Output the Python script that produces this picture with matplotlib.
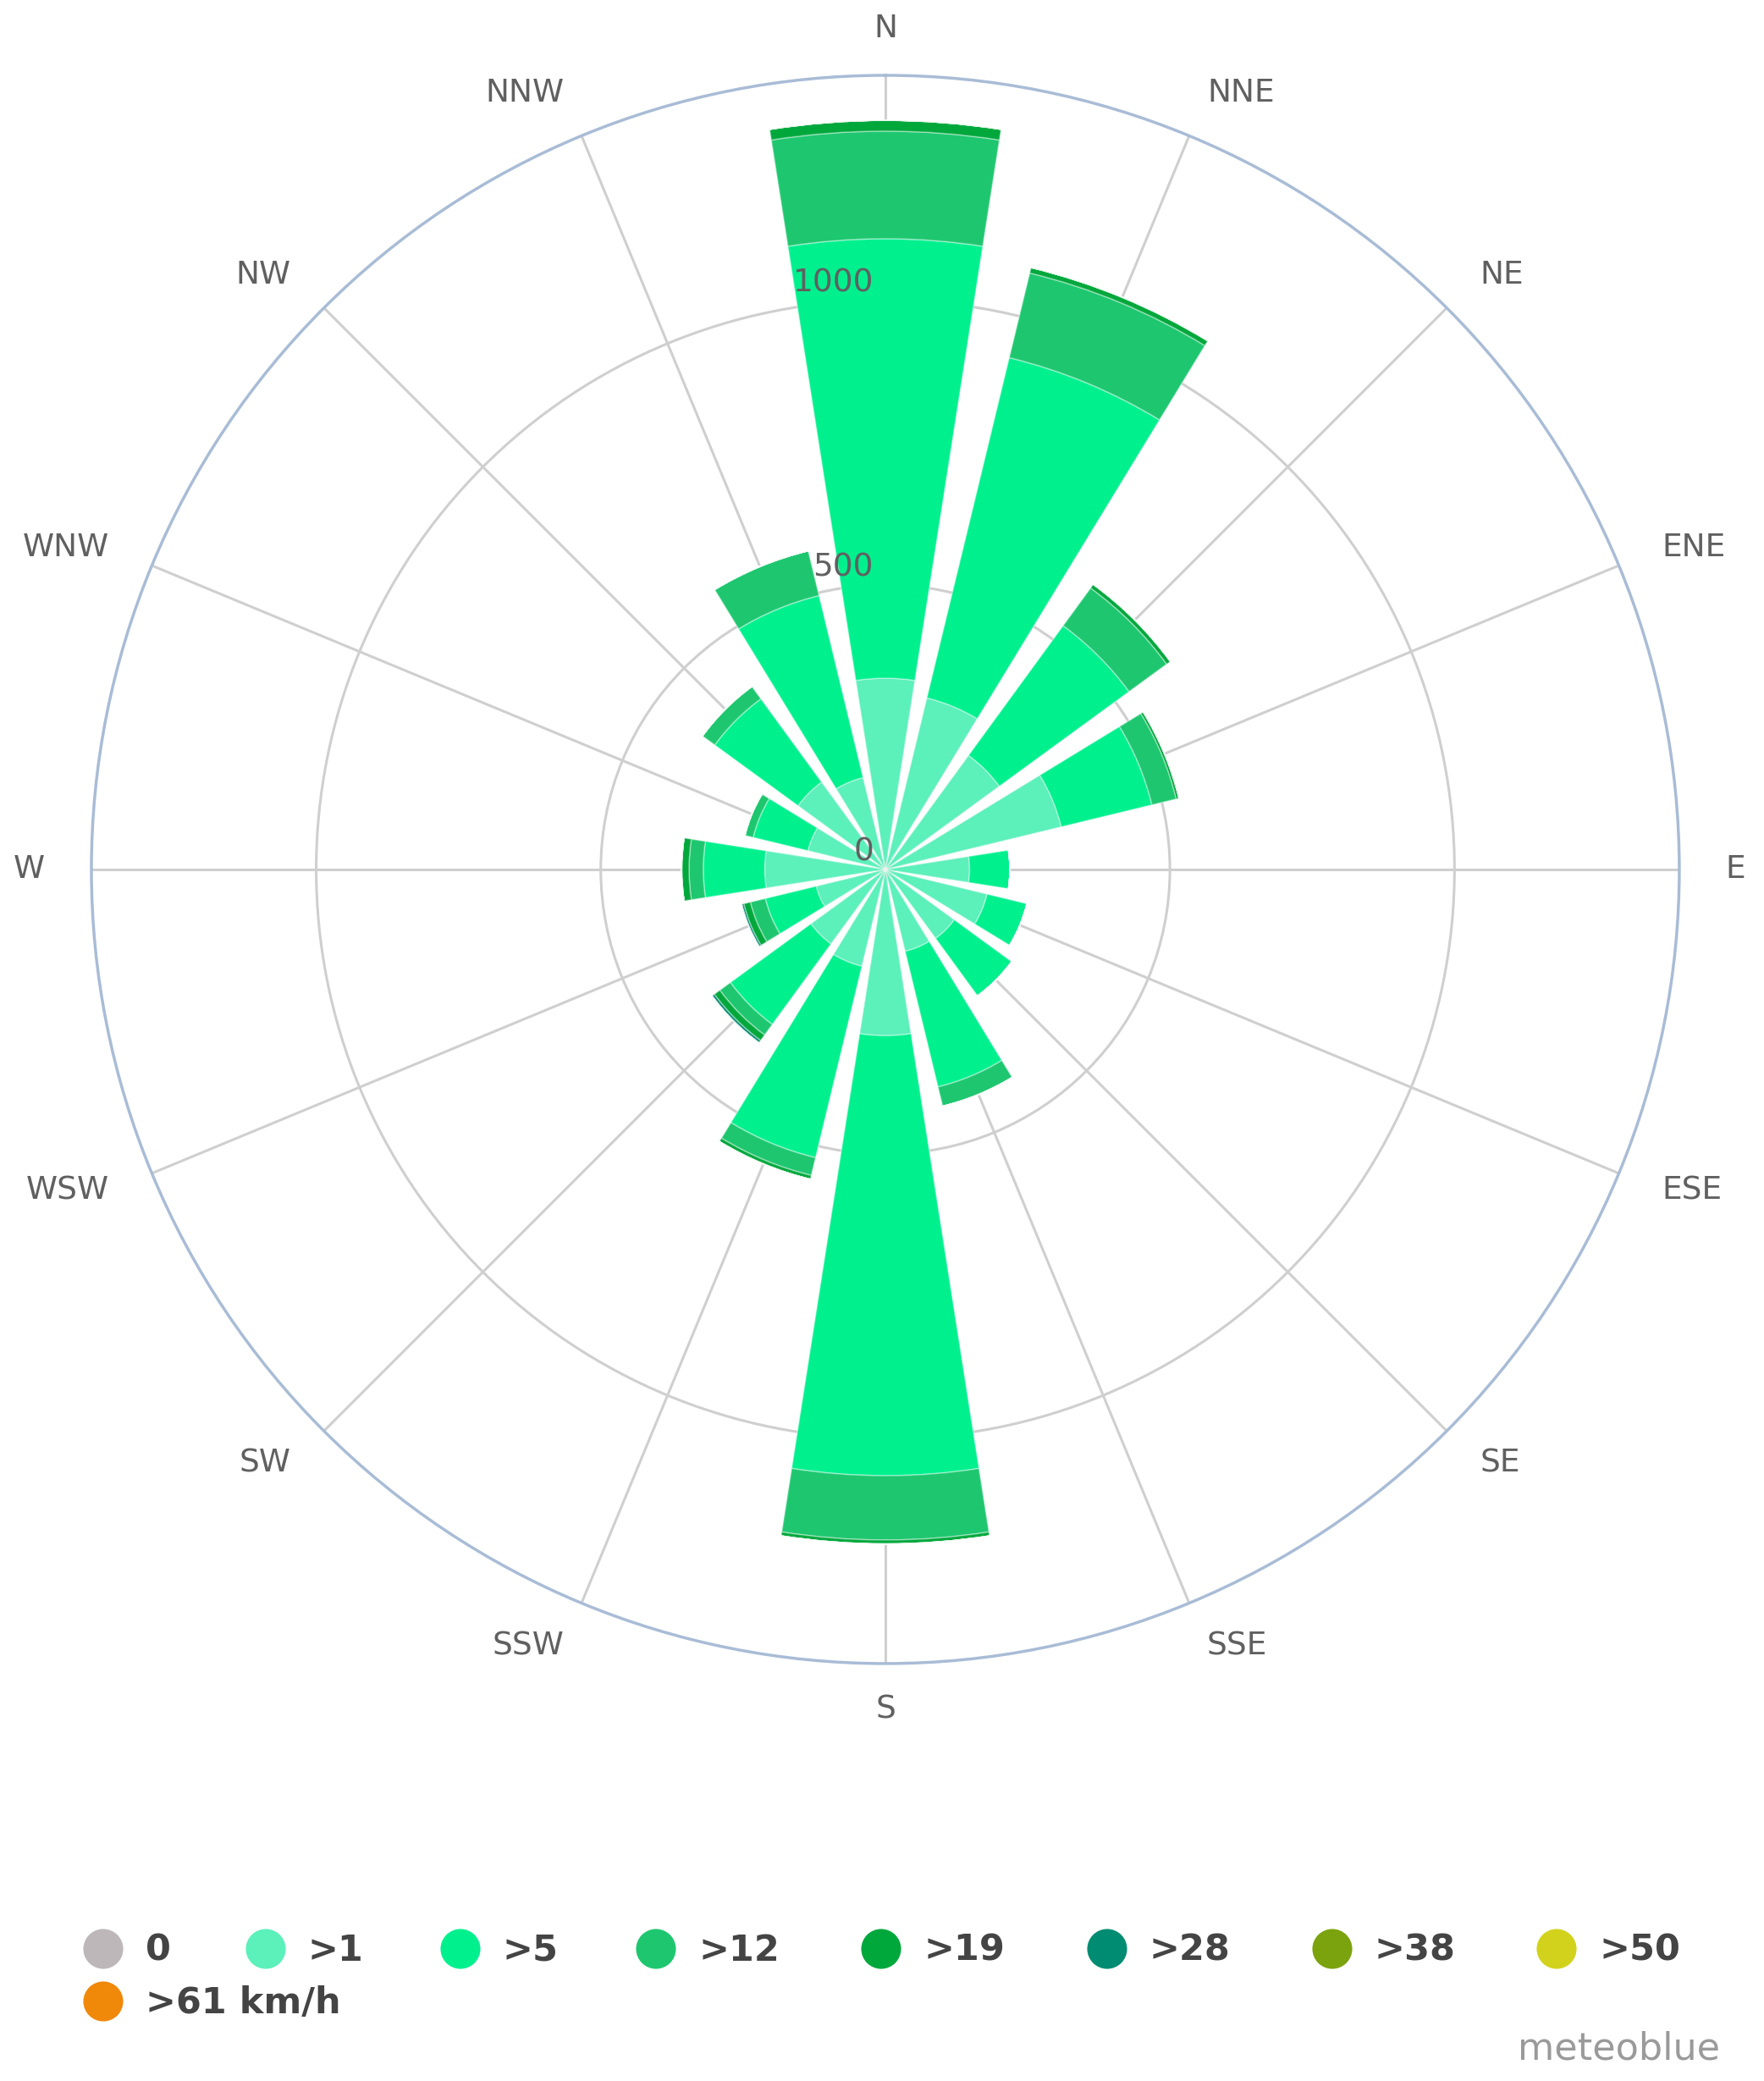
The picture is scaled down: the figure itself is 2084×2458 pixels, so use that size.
import numpy as np
import matplotlib
matplotlib.use("Agg")
from matplotlib import pyplot as plt
from matplotlib import transforms

# directions, clockwise from north
directions = ['N', 'NNE', 'NE', 'ENE', 'E', 'ESE', 'SE', 'SSE',
              'S', 'SSW', 'SW', 'WSW', 'W', 'WNW', 'NW', 'NNW']

# hours per direction and speed class (stacked from the centre outwards)
calm = [4, 4, 4, 4, 4, 4, 4, 4, 4, 4, 4, 4, 4, 4, 4, 4]
gt1 = [332, 306, 244, 314, 144, 180, 146, 144, 288, 171, 158, 121, 208, 136, 186, 162]
gt5 = [772, 615, 282, 164, 71, 72, 125, 245, 773, 346, 175, 92, 108, 99, 181, 329]
gt12 = [189, 153, 82, 44, 0, 0, 0, 35, 113, 32, 23, 27, 25, 15, 27, 81]
gt19 = [19, 10, 8, 5, 0, 0, 0, 0, 7, 7, 12, 12, 13, 0, 0, 0]
gt28 = [0, 0, 0, 0, 0, 0, 0, 0, 0, 0, 5, 4, 0, 0, 0, 0]
gt38 = [0] * 16
gt50 = [0] * 16
gt61 = [0] * 16

series = [calm, gt1, gt5, gt12, gt19, gt28, gt38, gt50, gt61]
series_names = ['0', '>1', '>5', '>12', '>19', '>28', '>38', '>50', '>61 km/h']
colors = ['#bdb7ba', '#5cf0bb', '#00f08e', '#1ec76f', '#00a83c',
          '#008c72', '#7ba30e', '#d2d21c', '#f0880a']

r_ticks = [0, 500, 1000]
r_max = 1395

fig = plt.figure(figsize=(20.84, 24.58), dpi=100)
ax = fig.add_axes([0.0518, 0.2006, 0.9002, 0.7632], projection='polar')
ax.set_theta_zero_location('N')
ax.set_theta_direction(-1)

theta = np.arange(len(directions)) * 2 * np.pi / len(directions)
width = 2 * np.pi / len(directions) * 0.79

bottom = np.zeros(len(directions))
for vals, col in zip(series, colors):
    vals = np.array(vals, dtype=float)
    ax.bar(theta, vals, width=width, bottom=bottom, color=col,
           edgecolor=(1, 1, 1, 0.35), linewidth=1.2, zorder=3)
    bottom += vals

ax.set_ylim(0, r_max)
ax.set_rgrids([t for t in r_ticks if t > 0], labels=[''] * (len(r_ticks) - 1))
ax.set_thetagrids(np.degrees(theta), labels=[''] * len(directions))
ax.grid(True, color='#cfcfcf', linewidth=2.2)
ax.spines['polar'].set_color('#a9bcd6')
ax.spines['polar'].set_linewidth(2.5)
ax.tick_params(pad=0)

# direction labels: left-aligned on the east side, right-aligned on the west side
for t, name in zip(theta, directions):
    s = np.sin(t)
    if abs(s) < 1e-6:
        ha = 'center'
    elif s > 0:
        ha = 'left'
    else:
        ha = 'right'
    ax.text(t, r_max * 1.0585, name, ha=ha, va='center', fontsize=27,
            color='#606060', clip_on=False)

# radial axis labels, just left of the north spoke
off = transforms.offset_copy(ax.transData, fig=fig, x=-14, y=20, units='dots')
for rv in r_ticks:
    ax.text(0, rv, str(rv), transform=off, ha='right', va='center',
            fontsize=27, color='#606060', zorder=5)

# legend at the bottom (positions in figure pixels)
lax = fig.add_axes([0, 0, 1, 1], zorder=-1)
lax.set_xlim(0, 2084)
lax.set_ylim(2458, 0)
lax.axis('off')
leg_x = [122, 314, 544, 775, 1041, 1308, 1574, 1839, 122]
leg_y = [2302] * 8 + [2364]
for x, y, name, col in zip(leg_x, leg_y, series_names, colors):
    lax.scatter([x], [y], s=1150, color=col, edgecolors='none')
    lax.text(x + 50, y + 2, name, ha='left', va='center', fontsize=31,
             fontweight='bold', color='#444444')

lax.text(2032, 2420, 'meteoblue', ha='right', va='center', fontsize=32,
         color='#9a9a9a')

fig.savefig('out.png', dpi=100, facecolor='white')
